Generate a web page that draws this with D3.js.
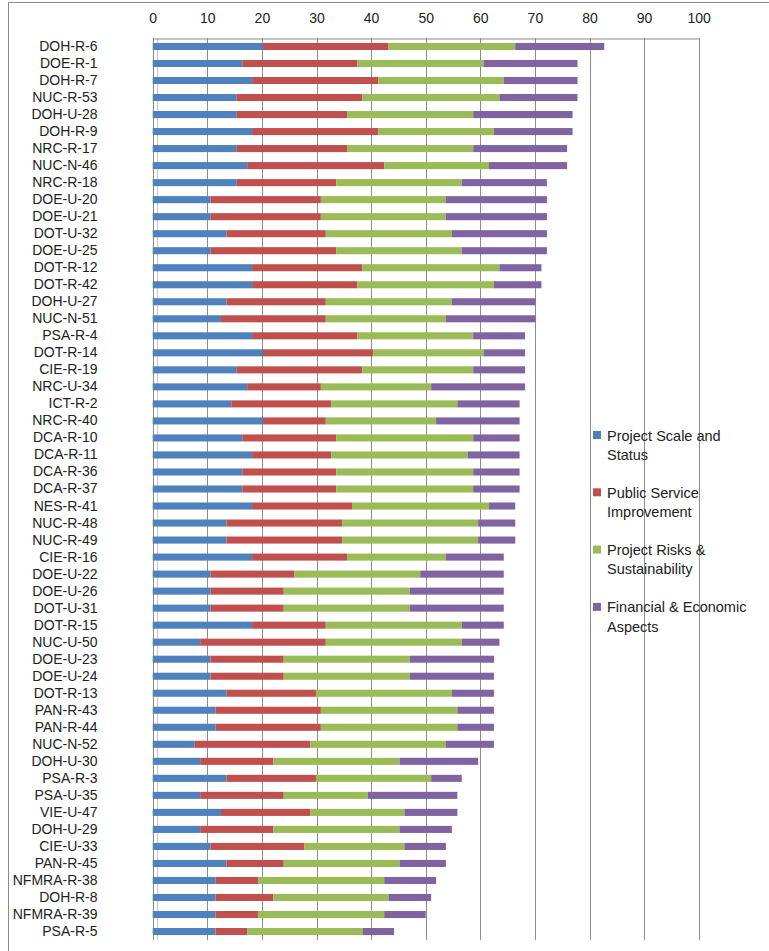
<!DOCTYPE html>
<html>
<head>
<meta charset="utf-8">
<script src="https://cdn.jsdelivr.net/npm/d3@7/dist/d3.min.js"></script>
<style>
  html, body { margin: 0; padding: 0; background: #fff; }
  svg { display: block; }
  text { font-family: "Liberation Sans", Arial, sans-serif; fill: #222; }
</style>
</head>
<body>
<div id="chart"></div>
<script>
const categories = ["DOH-R-6","DOE-R-1","DOH-R-7","NUC-R-53","DOH-U-28","DOH-R-9","NRC-R-17","NUC-N-46","NRC-R-18","DOE-U-20",
  "DOE-U-21","DOT-U-32","DOE-U-25","DOT-R-12","DOT-R-42","DOH-U-27","NUC-N-51","PSA-R-4","DOT-R-14","CIE-R-19",
  "NRC-U-34","ICT-R-2","NRC-R-40","DCA-R-10","DCA-R-11","DCA-R-36","DCA-R-37","NES-R-41","NUC-R-48","NUC-R-49",
  "CIE-R-16","DOE-U-22","DOE-U-26","DOT-U-31","DOT-R-15","NUC-U-50","DOE-U-23","DOE-U-24","DOT-R-13","PAN-R-43",
  "PAN-R-44","NUC-N-52","DOH-U-30","PSA-R-3","PSA-U-35","VIE-U-47","DOH-U-29","CIE-U-33","PAN-R-45","NFMRA-R-38",
  "DOH-R-8","NFMRA-R-39","PSA-R-5"];

const projectScale = [20.2,16.4,18.2,15.4,15.4,18.2,15.4,17.3,15.4,10.6,
  10.6,13.5,10.6,18.2,18.2,13.5,12.5,18.2,20.2,15.4,
  17.3,14.4,20.2,16.4,18.2,16.4,16.4,18.2,13.5,13.5,
  18.2,10.6,10.6,10.6,18.2,8.7,10.6,10.6,13.5,11.5,
  11.5,7.7,8.7,13.5,8.7,12.5,8.7,10.6,13.5,11.5,
  11.5,11.5,11.5];
const publicService = [23.0,21.1,23.1,23.0,20.2,23.1,20.2,25.1,18.2,20.2,
  20.2,18.2,23.0,20.2,19.3,18.2,19.2,19.3,20.2,23.0,
  13.5,18.3,11.5,17.2,14.5,17.2,17.2,18.3,21.2,21.2,
  17.4,15.3,13.4,13.4,13.5,23.0,13.4,13.4,16.4,19.3,
  19.3,21.2,13.4,16.4,15.3,16.4,13.4,17.2,10.5,7.8,
  10.6,7.8,5.8];
const projectRisks = [23.2,23.1,23.0,25.1,23.1,21.2,23.1,19.2,23.0,22.9,
  22.9,23.1,23.0,25.1,25.0,23.1,22.0,21.2,20.2,20.3,
  20.2,23.1,20.2,25.1,25.0,25.1,25.1,25.1,24.9,24.9,
  18.1,23.1,23.1,23.1,24.9,24.9,23.1,23.1,24.9,25.0,
  25.0,24.8,23.1,21.1,15.4,17.2,23.1,18.3,21.2,23.1,
  21.1,23.1,21.2];
const financial = [16.3,17.2,13.5,14.3,18.2,14.4,17.2,14.3,15.6,18.5,
  18.5,17.4,15.6,7.7,8.7,15.3,16.4,9.5,7.6,9.5,
  17.2,11.4,15.3,8.5,9.5,8.5,8.5,4.8,6.8,6.8,
  10.6,15.3,17.2,17.2,7.7,6.9,15.4,15.4,7.7,6.7,
  6.7,8.8,14.4,5.6,16.4,9.7,9.6,7.6,8.5,9.5,
  7.8,7.6,5.7];

const seriesNames = ["Project Scale and Status","Public Service Improvement","Project Risks & Sustainability","Financial & Economic Aspects"];
const legendLines = [["Project Scale and","Status"],["Public Service","Improvement"],["Project Risks &","Sustainability"],["Financial & Economic","Aspects"]];
const seriesColors = ["#4F81BD","#C0504D","#9BBB59","#8064A2"];
const xTicks = [0,10,20,30,40,50,60,70,80,90,100];

const W = 769, H = 951;
const plot = {left: 152.7, right: 698.7, top: 38, bottom: 940};

const rows = categories.map((c, i) => ({
  cat: c, s0: projectScale[i], s1: publicService[i], s2: projectRisks[i], s3: financial[i]
}));
const keys = ["s0","s1","s2","s3"];
const stacked = d3.stack().keys(keys)(rows);

const x = d3.scaleLinear().domain([0,100]).range([plot.left, plot.right]);
const y = d3.scaleBand().domain(categories).range([plot.top, plot.bottom]).paddingInner(0.585).paddingOuter(0.29);

const svg = d3.select("#chart").append("svg").attr("width", W).attr("height", H);
svg.append("rect").attr("width", W).attr("height", H).attr("fill", "#fff");

// outer frame (top & left visible)
svg.append("rect").attr("x", 8.5).attr("y", 2.5).attr("width", 800).attr("height", 1000)
  .attr("fill", "none").attr("stroke", "#8a8a8a").attr("stroke-width", 1);

// gridlines
svg.append("g").selectAll("line").data(xTicks).join("line")
  .attr("x1", d => Math.round(x(d)) + 0.5).attr("x2", d => Math.round(x(d)) + 0.5)
  .attr("y1", plot.top).attr("y2", plot.bottom)
  .attr("stroke", "#8c8c8c").attr("stroke-width", 1);
// secondary faint line near zero
svg.append("line").attr("x1", Math.round(x(0)) + 4.5).attr("x2", Math.round(x(0)) + 4.5)
  .attr("y1", plot.top).attr("y2", plot.bottom).attr("stroke", "#c8c8c8").attr("stroke-width", 1);

// top axis
const xAxis = d3.axisTop(x).tickValues(xTicks).tickSize(0).tickPadding(0);
const gx = svg.append("g").attr("transform", `translate(0,${plot.top + 0.5})`).call(xAxis);
gx.select(".domain").attr("stroke", "#8c8c8c");
gx.selectAll("text").attr("font-size", 14).attr("fill", "#222")
  .attr("font-family", "'Liberation Sans', Arial, sans-serif").attr("y", -16);

// bars
svg.append("g").selectAll("g").data(stacked).join("g")
  .attr("fill", (d, i) => seriesColors[i])
  .selectAll("rect").data(d => d).join("rect")
  .attr("x", d => x(d[0]))
  .attr("width", d => x(d[1]) - x(d[0]))
  .attr("y", d => y(d.data.cat))
  .attr("height", y.bandwidth());

// category labels
const yAxis = d3.axisLeft(y).tickSize(0).tickPadding(0);
const gy = svg.append("g").attr("transform", "translate(97.5,0)").call(yAxis);
gy.select(".domain").remove();
gy.selectAll("text").attr("font-size", 14).attr("fill", "#222")
  .attr("font-family", "'Liberation Sans', Arial, sans-serif").attr("x", 0);

// legend
const lg = svg.append("g");
legendLines.forEach((lines, i) => {
  const top = 431 + i * 57.3;
  lg.append("rect").attr("x", 593).attr("y", top).attr("width", 8).attr("height", 8).attr("fill", seriesColors[i]);
  lines.forEach((t, j) => {
    lg.append("text").attr("x", 607).attr("y", top + 9.5 + j * 19.3)
      .attr("font-size", 14.5).attr("fill", "#222").text(t);
  });
});
</script>
</body>
</html>
